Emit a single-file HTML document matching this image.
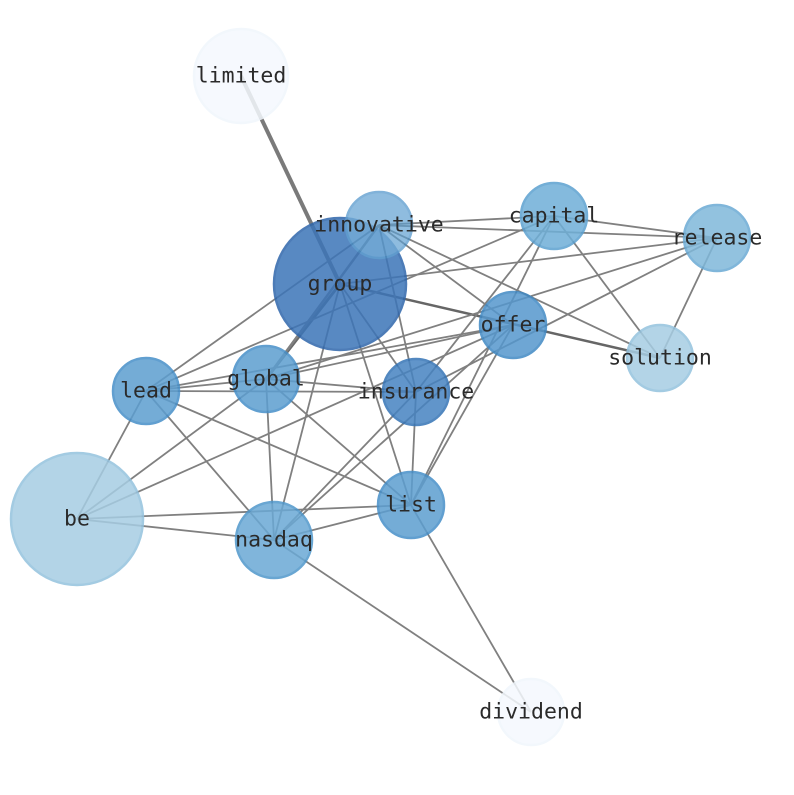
<!DOCTYPE html>
<html><head><meta charset="utf-8"><style>
html,body{margin:0;padding:0;background:#fff;}
svg text{font-family:"DejaVu Sans Mono","Liberation Mono",monospace;font-size:21.5px;fill:#2a2a2a;text-anchor:middle;dominant-baseline:central;}
</style></head><body>
<svg width="794" height="790" viewBox="0 0 794 790" xmlns="http://www.w3.org/2000/svg">
<g stroke="#808080" stroke-width="1.8" fill="none">
<line x1="241" y1="76" x2="340" y2="284" stroke-width="4" stroke="#7a7a7a"/>
<line x1="340" y1="284" x2="660" y2="358" stroke-width="2.5" stroke="#666"/>
<line x1="340" y1="284" x2="266" y2="379" stroke-width="3" stroke="#6a6a6a"/>
<line x1="379" y1="225" x2="266" y2="379" stroke-width="2.5"/>
<line x1="379" y1="225" x2="146" y2="391"/>
<line x1="340" y1="284" x2="416" y2="392"/>
<line x1="340" y1="284" x2="274" y2="540"/>
<line x1="340" y1="284" x2="411" y2="505"/>
<line x1="340" y1="284" x2="717" y2="238"/>
<line x1="379" y1="225" x2="554" y2="216"/>
<line x1="379" y1="225" x2="717" y2="238"/>
<line x1="379" y1="225" x2="660" y2="358"/>
<line x1="379" y1="225" x2="513" y2="325"/>
<line x1="379" y1="225" x2="416" y2="392"/>
<line x1="554" y1="216" x2="717" y2="238"/>
<line x1="554" y1="216" x2="146" y2="391"/>
<line x1="554" y1="216" x2="660" y2="358"/>
<line x1="554" y1="216" x2="416" y2="392"/>
<line x1="554" y1="216" x2="411" y2="505"/>
<line x1="717" y1="238" x2="660" y2="358"/>
<line x1="717" y1="238" x2="416" y2="392"/>
<line x1="717" y1="238" x2="266" y2="379"/>
<line x1="513" y1="325" x2="146" y2="391"/>
<line x1="513" y1="325" x2="266" y2="379"/>
<line x1="513" y1="325" x2="77" y2="519"/>
<line x1="513" y1="325" x2="274" y2="540"/>
<line x1="513" y1="325" x2="411" y2="505"/>
<line x1="146" y1="391" x2="266" y2="379"/>
<line x1="146" y1="391" x2="416" y2="392"/>
<line x1="146" y1="391" x2="411" y2="505"/>
<line x1="146" y1="391" x2="274" y2="540"/>
<line x1="146" y1="391" x2="77" y2="519"/>
<line x1="266" y1="379" x2="416" y2="392"/>
<line x1="266" y1="379" x2="77" y2="519"/>
<line x1="266" y1="379" x2="274" y2="540"/>
<line x1="266" y1="379" x2="411" y2="505"/>
<line x1="416" y1="392" x2="411" y2="505"/>
<line x1="416" y1="392" x2="274" y2="540"/>
<line x1="77" y1="519" x2="411" y2="505"/>
<line x1="77" y1="519" x2="274" y2="540"/>
<line x1="274" y1="540" x2="411" y2="505"/>
<line x1="274" y1="540" x2="531" y2="712"/>
<line x1="411" y1="505" x2="531" y2="712"/>
</g>
<g stroke-width="2.5" opacity="0.85">
<circle cx="241" cy="76" r="47" fill="#f5f9fe" stroke="#f0f6fc"/>
<circle cx="531" cy="712" r="33" fill="#f5f9fe" stroke="#f0f6fc"/>
<circle cx="77" cy="519" r="66" fill="#a6cde3" stroke="#94c2de"/>
<circle cx="660" cy="358" r="33" fill="#a6cde3" stroke="#94c2de"/>
<circle cx="717" cy="238" r="33" fill="#7fb8da" stroke="#6aaad4"/>
<circle cx="554" cy="216" r="33" fill="#6fafd8" stroke="#5ba0d0"/>
<circle cx="274" cy="540" r="38" fill="#6aa9d5" stroke="#4f97cb"/>
<circle cx="411" cy="505" r="33" fill="#5c9ed0" stroke="#468fc8"/>
<circle cx="146" cy="391" r="33" fill="#5c9ed0" stroke="#468fc8"/>
<circle cx="266" cy="379" r="33" fill="#5c9ed0" stroke="#468fc8"/>
<circle cx="340" cy="284" r="66" fill="#3c75b8" stroke="#2e66ab"/>
<circle cx="379" cy="225" r="33" fill="#5c9ed0" stroke="#468fc8" opacity="0.8"/>
<circle cx="513" cy="325" r="33" fill="#5597cd" stroke="#4089c4"/>
<circle cx="416" cy="392" r="33" fill="#4683c1" stroke="#3574b6"/>
</g>
<text x="241" y="76">limited</text>
<text x="379" y="225">innovative</text>
<text x="554" y="216">capital</text>
<text x="717" y="238">release</text>
<text x="340" y="284">group</text>
<text x="513" y="325">offer</text>
<text x="660" y="358">solution</text>
<text x="146" y="391">lead</text>
<text x="266" y="379">global</text>
<text x="416" y="392">insurance</text>
<text x="77" y="519">be</text>
<text x="411" y="505">list</text>
<text x="274" y="540">nasdaq</text>
<text x="531" y="712">dividend</text>
</svg>
</body></html>
